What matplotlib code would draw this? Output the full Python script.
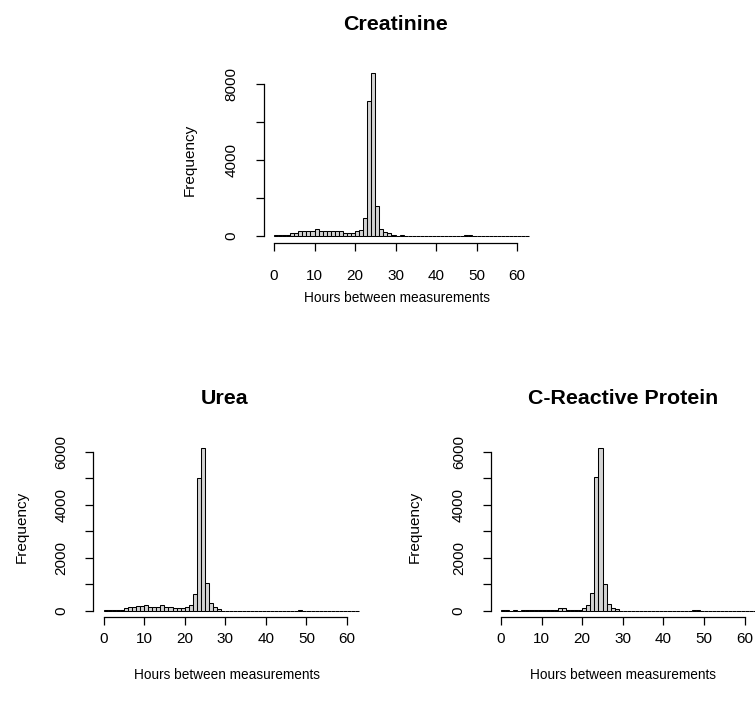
"""Three R-style histograms of hours between lab measurements."""
import matplotlib
matplotlib.use("Agg")
import matplotlib.pyplot as plt
from matplotlib.ticker import FixedLocator

W, H = 755, 702
FILL = "#d3d3d3"
plt.rcParams["font.family"] = ["Liberation Sans", "DejaVu Sans"]

# one-hour bins, 0..63 hours
bin_edges = list(range(0, 64))

creatinine = [60, 60, 60, 60, 170, 170, 280, 280, 280, 280,
              370, 280, 280, 280, 280, 280, 280, 170, 170, 170,
              280, 320, 930, 7100, 8560, 1580, 370, 230, 140, 50,
              0, 50, 0, 0, 0, 0, 0, 0, 0, 0,
              0, 0, 0, 0, 0, 0, 0, 40, 40, 0,
              0, 0, 0, 0, 0, 0, 0, 0, 0, 0,
              0, 0, 0]
urea = [30, 30, 30, 30, 30, 90, 140, 140, 190, 190,
        215, 150, 150, 150, 200, 140, 140, 90, 90, 90,
        140, 230, 630, 5000, 6150, 1030, 280, 150, 60, 0,
        0, 0, 0, 0, 0, 0, 0, 0, 0, 0,
        0, 0, 0, 0, 0, 0, 0, 0, 40, 0,
        0, 0, 0, 0, 0, 0, 0, 0, 0, 0,
        0, 0, 0]
crp = [40, 40, 5, 40, 5, 40, 40, 40, 40, 40,
       40, 40, 40, 40, 110, 110, 40, 40, 40, 40,
       100, 215, 680, 5060, 6150, 1020, 260, 120, 50, 0,
       0, 0, 0, 0, 0, 0, 0, 0, 0, 0,
       0, 0, 0, 0, 0, 0, 0, 40, 40, 0,
       0, 0, 0, 0, 0, 0, 0, 0, 0, 0,
       0, 0, 0]

x_ticks = [0, 10, 20, 30, 40, 50, 60]


def fx(x):
    return x / W


def fy(y):
    return 1 - y / H


def hist_panel(fig, box, counts, title, major, minor, xpad,
               title_xy, xlab_xy, ylab_xy):
    left, top, right, bottom = box
    ax = fig.add_axes([fx(left), fy(bottom), (right - left) / W, (bottom - top) / H])
    ax.bar(bin_edges[:-1], counts, width=1, align="edge", color=FILL,
           edgecolor="black", linewidth=0.75)
    span = bin_edges[-1] - bin_edges[0]
    ax.set_xlim(bin_edges[0] - 0.04 * span, bin_edges[-1] + 0.04 * span)
    top_count = max(counts)
    ax.set_ylim(-0.04 * top_count, 1.04 * top_count)

    for side in ("top", "right"):
        ax.spines[side].set_visible(False)
    ax.spines["bottom"].set_bounds(x_ticks[0], x_ticks[-1])
    ax.spines["left"].set_bounds(0, major[-1])
    for side in ("left", "bottom"):
        ax.spines[side].set_linewidth(0.9)

    ax.set_xticks(x_ticks)
    ax.set_xticklabels([str(t) for t in x_ticks])
    ax.yaxis.set_major_locator(FixedLocator(major))
    ax.yaxis.set_minor_locator(FixedLocator(minor))
    ax.set_yticklabels([str(t) for t in major], rotation=90, va="center")
    ax.tick_params(which="both", direction="out", length=6, width=0.9, labelsize=11)
    ax.tick_params(axis="x", pad=xpad)
    ax.tick_params(axis="y", pad=12)

    fig.text(fx(title_xy[0]), fy(title_xy[1]), title, ha="center", va="center",
             fontsize=15.4, fontweight="bold")
    fig.text(fx(xlab_xy[0]), fy(xlab_xy[1]), "Hours between measurements",
             ha="center", va="center", fontsize=9.8)
    fig.text(fx(ylab_xy[0]), fy(ylab_xy[1]), "Frequency", ha="center", va="center",
             rotation=90, fontsize=11)
    return ax


fig = plt.figure(figsize=(W / 100, H / 100), dpi=100)
fig.patch.set_facecolor("white")

hist_panel(fig, (263.8, 66.9, 539.4, 242.5), creatinine, "Creatinine",
           [0, 4000, 8000], [2000, 6000], 13,
           (395, 25), (397, 298), (190, 160))
hist_panel(fig, (93.3, 441.2, 369.5, 617.2), urea, "Urea",
           [0, 2000, 4000, 6000], [1000, 3000, 5000], 5,
           (225, 399), (227, 675), (22, 527))
hist_panel(fig, (490.8, 441.2, 767.0, 617.2), crp, "C-Reactive Protein",
           [0, 2000, 4000, 6000], [1000, 3000, 5000], 5,
           (623, 399), (623, 675), (415, 527))

fig.savefig("out.png", dpi=100, facecolor="white")
print("wrote out.png")
